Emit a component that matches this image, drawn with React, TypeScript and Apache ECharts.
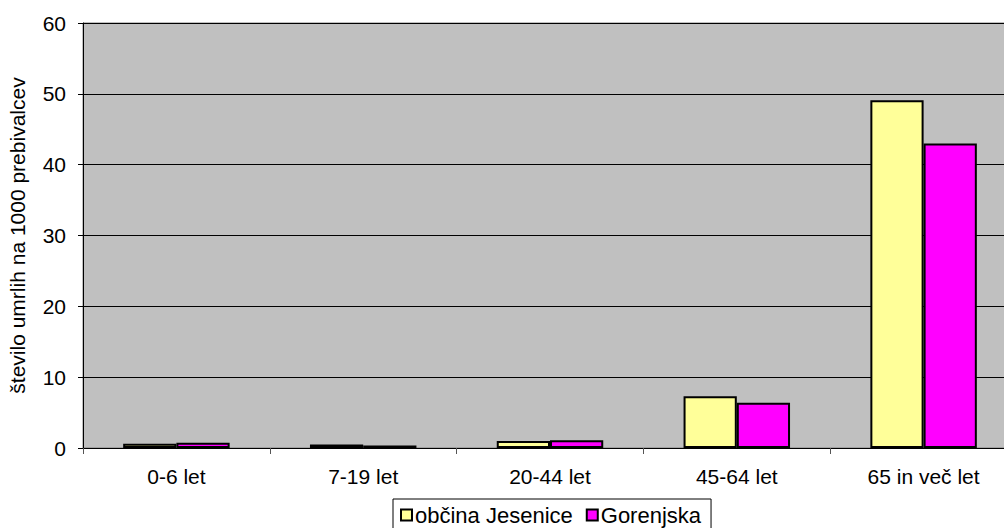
import React, { useEffect, useRef } from "react";
import * as echarts from "echarts";

const categories = ["0-6 let", "7-19 let", "20-44 let", "45-64 let", "65 in več let"];
const jesenice = [0.6, 0.5, 1.0, 7.3, 49.1];
const gorenjska = [0.75, 0.35, 1.1, 6.4, 43.0];
const seriesNames = ["občina Jesenice", "Gorenjska"];
const yAxisName = "število umrlih na 1000 prebivalcev";

export default function App() {
  const ref = useRef<HTMLDivElement>(null);
  useEffect(() => {
    if (!ref.current) return;
    const chart = echarts.init(ref.current, undefined, { renderer: "svg" });
    const font = "Liberation Sans, Arial, sans-serif";
    chart.setOption({
      animation: false,
      textStyle: { fontFamily: font },
      grid: {
        left: 83, top: 23, bottom: 80, right: 0,
        outerBoundsMode: "none",
        containLabel: false,
        show: true, backgroundColor: "#C0C0C0", borderColor: "#808080", borderWidth: 1,
      },
      legend: {
        left: 393,
        top: 499,
        padding: [5, 10, 5, 7],
        borderColor: "#000",
        borderWidth: 1,
        itemWidth: 11,
        itemHeight: 11,
        itemGap: 13,
        icon: "rect",
        textStyle: { fontSize: 22, color: "#000", fontFamily: font, padding: [0, 0, 0, -2] },
        data: seriesNames,
      },
      xAxis: {
        type: "category",
        data: categories,
        axisLine: { lineStyle: { color: "#000", width: 1 } },
        axisTick: { show: true, length: 6, lineStyle: { color: "#555" } },
        axisLabel: { fontSize: 21, color: "#000", margin: 18, fontFamily: font },
      },
      yAxis: {
        type: "value",
        min: 0,
        max: 60,
        interval: 10,
        name: yAxisName,
        nameLocation: "middle",
        nameRotate: 90,
        nameGap: 55,
        nameTextStyle: { fontSize: 21, color: "#000", fontFamily: font },
        axisLine: { show: true, lineStyle: { color: "#000" } },
        axisTick: { show: true, length: 5, inside: false, lineStyle: { color: "#000" } },
        axisLabel: { fontSize: 21, color: "#000", margin: 17, fontFamily: font },
        splitLine: { show: true, lineStyle: { color: "#000", width: 1 } },
      },
      series: [
        {
          name: seriesNames[0],
          type: "bar",
          data: jesenice,
          barGap: "0%",
          barCategoryGap: "43%",
          itemStyle: { color: "#FFFF99", borderColor: "#000", borderWidth: 2 },
        },
        {
          name: seriesNames[1],
          type: "bar",
          data: gorenjska,
          barGap: "0%",
          barCategoryGap: "43%",
          itemStyle: { color: "#FF00FF", borderColor: "#000", borderWidth: 2 },
        },
      ],
    });
    return () => chart.dispose();
  }, []);
  return (
    <div style={{ position: "absolute", left: 0, top: 0, width: 1004, height: 528, overflow: "hidden" }}>
      <div ref={ref} style={{ width: 1017, height: 528 }} />
    </div>
  );
}
